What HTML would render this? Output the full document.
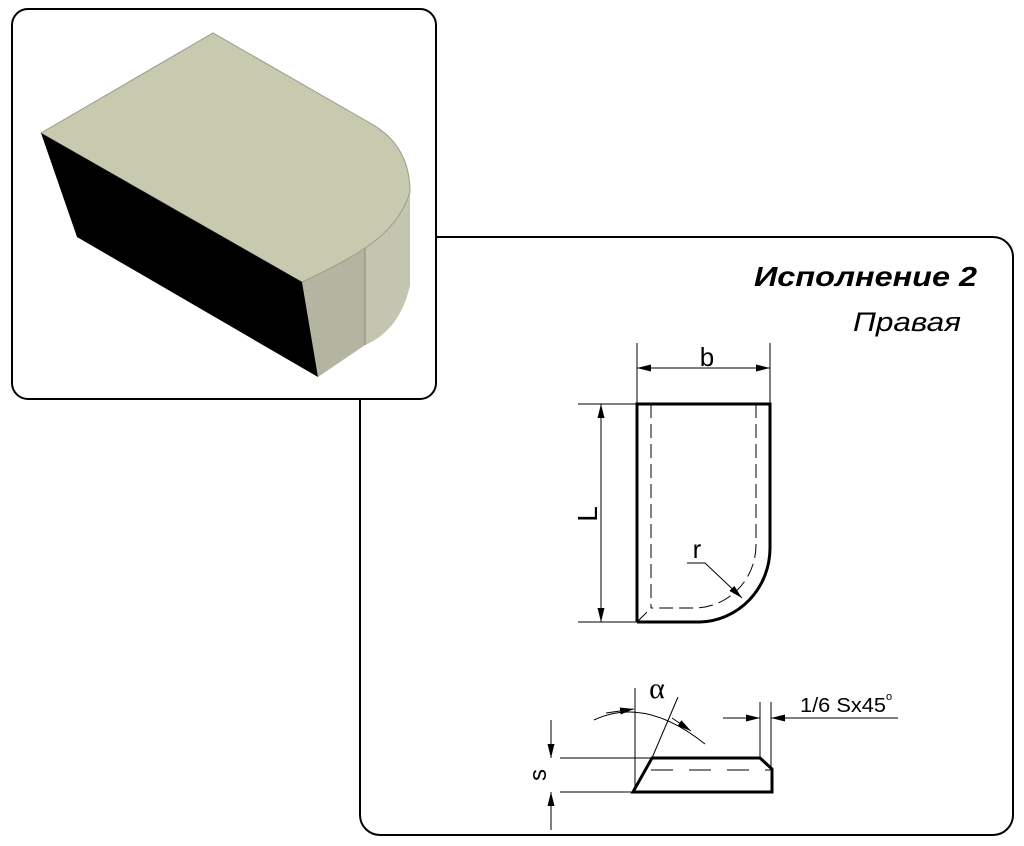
<!DOCTYPE html>
<html><head><meta charset="utf-8"><style>html,body{margin:0;padding:0;background:#fff}svg{display:block}</style></head>
<body>
<svg width="1024" height="846" viewBox="0 0 1024 846" xmlns="http://www.w3.org/2000/svg">
<defs>
<marker id="a" viewBox="0 0 14 7" refX="14" refY="3.5" markerWidth="14" markerHeight="7" orient="auto-start-reverse" markerUnits="userSpaceOnUse"><path d="M0,0 L14,3.5 L0,7 z" fill="#000"/></marker>
</defs>
<rect x="360" y="237" width="653" height="598" rx="20" fill="#fff" stroke="#000" stroke-width="2"/>
<rect x="12" y="9" width="424" height="390" rx="16" fill="#fff" stroke="#000" stroke-width="2"/>
<!-- 3D -->
<path d="M302,282 Q345,262 365,248 Q400,225 410,192 L410,285 Q400,330 365,345 L318,377 Z" fill="#b3b5a0"/>
<path d="M365,248 L365,345 Q400,330 410,285 L410,192 Q400,225 365,248Z" fill="#c3c5b0"/>
<line x1="365" y1="248" x2="365" y2="345" stroke="#8a8c78" stroke-width="1"/>
<path d="M41,133 L213,33 L370,123 Q410,145 410,192 Q400,225 365,248 Q345,262 302,282 Z" fill="#c7caaf" stroke="#9a9c88" stroke-width="1"/>
<path d="M41,133 L302,282 L318,377 L77,237 Z" fill="#000"/>
<!-- texts -->
<text x="754" y="286" textLength="223" lengthAdjust="spacingAndGlyphs" font-family="Liberation Sans, sans-serif" font-size="28" font-weight="bold" font-style="italic">Исполнение 2</text>
<text x="853" y="331" textLength="108" lengthAdjust="spacingAndGlyphs" font-family="Liberation Sans, sans-serif" font-size="27" font-style="italic">Правая</text>
<!-- top view -->
<g fill="none" stroke="#000">
<path d="M637,622 L637,404 L770,404 L770,548 A72,74 0 0 1 700,622 L637,622" stroke-width="3"/>
<path d="M651,404 V608 M756,404 V545 A62,63 0 0 1 695,608 L651,608 M637,622 L651,608" stroke-width="1" stroke-dasharray="14,6"/>
<path d="M637,343 V404 M770,343 V404 M578,404 H637 M578,622 H637" stroke-width="1"/>
<line x1="637" y1="368" x2="770" y2="368" stroke-width="1" marker-start="url(#a)" marker-end="url(#a)"/>
<line x1="601" y1="404" x2="601" y2="622" stroke-width="1" marker-start="url(#a)" marker-end="url(#a)"/>
<path d="M687,563 H705 L742,598" stroke-width="1" marker-end="url(#a)"/>
</g>
<text x="707" y="366" text-anchor="middle" font-family="Liberation Sans, sans-serif" font-size="26">b</text>
<text x="0" y="0" transform="translate(597,514) rotate(-90)" text-anchor="middle" font-family="Liberation Sans, sans-serif" font-size="28">L</text>
<text x="697" y="558" text-anchor="middle" font-family="Liberation Sans, sans-serif" font-size="26">r</text>
<!-- side view -->
<g fill="none" stroke="#000">
<path d="M633,792 L652,758 L760,758 L772,769 L772,792 Z" stroke-width="3"/>
<path d="M651,770 H772" stroke-width="1" stroke-dasharray="22,16"/>
<path d="M560,758 H652 M560,792 H633 M635,688 V792 M652,758 L678,697 M760,702 V758 M771,702 V769 M793,718 H898" stroke-width="1"/>
<line x1="551" y1="720" x2="551" y2="758" stroke-width="1" marker-end="url(#a)"/>
<line x1="551" y1="830" x2="551" y2="792" stroke-width="1" marker-end="url(#a)"/>
<line x1="723" y1="718" x2="760" y2="718" stroke-width="1" marker-end="url(#a)"/>
<line x1="805" y1="718" x2="771" y2="718" stroke-width="1" marker-end="url(#a)"/>
<path d="M594,720 Q645,696 705,744" stroke-width="1"/>
<path d="M606,713 L634,709" stroke-width="1" marker-end="url(#a)"/>
<path d="M672,718 L691,731" stroke-width="1" marker-end="url(#a)"/>
</g>
<text x="0" y="0" transform="translate(546,775) rotate(-90)" text-anchor="middle" font-family="Liberation Sans, sans-serif" font-size="24">s</text>
<text x="657" y="698" text-anchor="middle" font-family="Liberation Serif, serif" font-size="30">α</text>
<text x="800" y="712" textLength="86" lengthAdjust="spacingAndGlyphs" font-family="Liberation Sans, sans-serif" font-size="20">1/6 Sx45</text>
<text x="886" y="700" font-family="Liberation Sans, sans-serif" font-size="11">o</text>
</svg>
</body></html>
